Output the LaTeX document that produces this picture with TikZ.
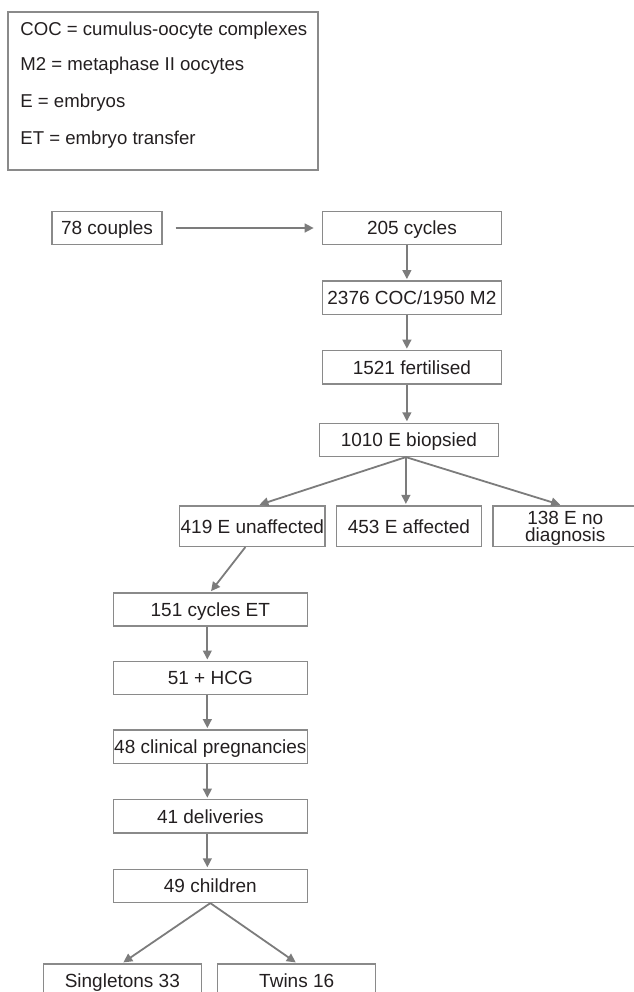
\documentclass[tikz,border=0pt]{standalone}
\usepackage{fontspec}
\setmainfont{Liberation Sans}
\usetikzlibrary{positioning,arrows.meta}

\definecolor{framegray}{HTML}{8A8A8A}
\definecolor{arrowgray}{HTML}{7C7C7C}
\definecolor{inkgray}{HTML}{231F20}

\begin{document}
\begin{tikzpicture}[
		x=0.5pt, y=-0.5pt,
		node distance=17.5pt,
		box/.style={draw=framegray, line width=0.7pt, text=inkgray, minimum height=16.6pt, inner sep=0.5pt, text height=6.9pt, text depth=0pt, font=\fontsize{9.5}{10}\selectfont},
		flow/.style={draw=arrowgray, line width=0.9pt, -{Triangle[length=4.5pt,width=4.4pt]}, shorten >=0.6pt},
		keyline/.style={anchor=base west, text=inkgray, inner sep=0pt, font=\fontsize{9.3}{10}\selectfont},
	]
		\useasboundingbox (0,0) rectangle (633,992);
		% legend
		\node [draw=framegray, line width=0.7pt, minimum width=155pt, minimum height=79pt, inner sep=0pt] (legend) at (163,91) {};
		\node [keyline] (keycoc) at (20,35) {COC = cumulus-oocyte complexes};
		\node [keyline] (keym2) at (20,70) {M2 = metaphase II oocytes};
		\node [keyline] (keye) at (20,107) {E = embryos};
		\node [keyline] (keyet) at (20,144) {ET = embryo transfer};
		
		% right column
		\node [box, minimum width=55pt] (couples) at (107,228) {78 couples};
		\node [box, minimum width=89.5pt, right=79.5pt of couples] (cycles) {205 cycles};
		\node [box, minimum width=89.5pt, below=of cycles] (coc) {2376 COC/1950 M2};
		\node [box, minimum width=89.5pt, below=of coc] (fertilised) {1521 fertilised};
		\node [box, minimum width=89.5pt, below=19pt of fertilised, xshift=-1.5pt] (biopsied) {1010 E biopsied};
		\node [box, minimum width=72.5pt, minimum height=20.3pt, below=24pt of biopsied] (affected) {453 E affected};
		\node [box, minimum width=72pt, minimum height=20.3pt, left=5pt of affected] (unaffected) {419 E unaffected};
		\node [box, minimum width=72.5pt, minimum height=20.3pt, right=5pt of affected, align=center, text height=15.7pt, font=\fontsize{9.5}{8.8}\selectfont] (nodiag) {138 E no\\diagnosis};
		
		% left column
		\node [box, minimum width=97pt, below=22.5pt of unaffected, xshift=-21pt] (etcycles) {151 cycles ET};
		\node [box, minimum width=97pt, below=17pt of etcycles] (hcg) {51 + HCG};
		\node [box, minimum width=97pt, below=17pt of hcg] (pregnancies) {48 clinical pregnancies};
		\node [box, minimum width=97pt, below=of pregnancies] (deliveries) {41 deliveries};
		\node [box, minimum width=97pt, below=of deliveries] (children) {49 children};
		\node [box, minimum width=79pt, below=30pt of children, xshift=-44pt] (singletons) {Singletons 33};
		\node [box, minimum width=79pt, right=7.5pt of singletons] (twins) {Twins 16};
		
		\draw [flow, shorten <=6.5pt, shorten >=4pt] (couples) -- (cycles);
		\draw [flow] ([xshift=-2.5pt]cycles.south) -- ([xshift=-2.5pt]coc.north);
		\draw [flow] ([xshift=-2.5pt]coc.south) -- ([xshift=-2.5pt]fertilised.north);
		\draw [flow] ([xshift=-2.5pt]fertilised.south) -- ([xshift=-1pt]biopsied.north);
		\draw [flow] ([xshift=-1.5pt]biopsied.south) -- ([xshift=3pt]unaffected.north);
		\draw [flow] ([xshift=-1.5pt]biopsied.south) -- ([xshift=-1.5pt]affected.north);
		\draw [flow] ([xshift=-1.5pt]biopsied.south) -- ([xshift=-2pt]nodiag.north);
		\draw [flow] ([xshift=-3.5pt]unaffected.south) -- (etcycles.north);
		\draw [flow] ([xshift=-1.5pt]etcycles.south) -- ([xshift=-1.5pt]hcg.north);
		\draw [flow] ([xshift=-1.5pt]hcg.south) -- ([xshift=-1.5pt]pregnancies.north);
		\draw [flow] ([xshift=-1.5pt]pregnancies.south) -- ([xshift=-1.5pt]deliveries.north);
		\draw [flow] ([xshift=-1.5pt]deliveries.south) -- ([xshift=-1.5pt]children.north);
		\draw [flow] (children.south) -- (singletons.north);
		\draw [flow] (children.south) -- (twins.north);
	\end{tikzpicture}
\end{document}
